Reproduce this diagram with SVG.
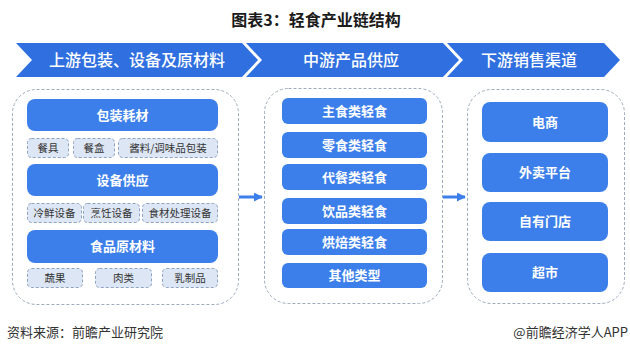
<svg xmlns="http://www.w3.org/2000/svg" width="630" height="352" viewBox="0 0 630 352">
<defs>
<style>
.t{font-family:"Noto Sans CJK SC","Liberation Sans",sans-serif}
.title{font-size:16px;font-weight:bold;fill:#1a1a1a}
.hd{fill:#2f6fe0}
.ht{font-size:16px;fill:#fff;font-weight:500}
.box{fill:#fff;stroke:#9eabbd;stroke-width:1;stroke-dasharray:3 2}
.pill{fill:#3d7fea}
.pt{font-size:13px;fill:#fff;font-weight:bold}
.sub{fill:#dde6f4;stroke:#8ea2c2;stroke-width:1;stroke-dasharray:3 2}
.st{font-size:10.5px;fill:#333}
.ft{font-size:13px;fill:#333}
.arr{stroke:#3d7fea;stroke-width:3;fill:none}
</style>
<marker id="ah" viewBox="0 0 10 10" refX="9" refY="5" markerWidth="3" markerHeight="3" orient="auto" markerUnits="strokeWidth"><path d="M0,0 L10,5 L0,10 z" fill="#3d7fea"/></marker>
</defs>
<rect width="630" height="352" fill="#fff"/>
<text class="t title" x="316" y="26" text-anchor="middle">图表3：轻食产业链结构</text>

<g id="header1"><polygon class="hd" points="16,43 242,43 258,60 242,77 16,77 32,60"/><text class="t ht" x="137" y="66" text-anchor="middle">上游包装、设备及原材料</text></g>
<g id="header2"><polygon class="hd" points="246,43 443,43 459,60 443,77 246,77 262,60"/><text class="t ht" x="351" y="66" text-anchor="middle">中游产品供应</text></g>
<g id="header3"><polygon class="hd" points="447,43 604,43 620,60 604,77 447,77 463,60"/><text class="t ht" x="529" y="66" text-anchor="middle">下游销售渠道</text></g>

<g id="upstream">
<rect class="box" x="12.5" y="89.5" width="226" height="215" rx="24"/>
<g id="pkg"><rect class="pill" x="27" y="99" width="191" height="32" rx="8"/><text class="t pt" x="122.5" y="119.5" text-anchor="middle">包装耗材</text></g>
<g id="s1"><rect class="sub" x="27.5" y="138.5" width="41" height="19" rx="4"/><text class="t st" x="48" y="151.5" text-anchor="middle">餐具</text></g>
<g id="s2"><rect class="sub" x="73.5" y="138.5" width="41" height="19" rx="4"/><text class="t st" x="94" y="151.5" text-anchor="middle">餐盒</text></g>
<g id="s3"><rect class="sub" x="118.5" y="138.5" width="99" height="19" rx="4"/><text class="t st" x="168" y="151.5" text-anchor="middle">酱料/调味品包装</text></g>
<g id="equip"><rect class="pill" x="27" y="164" width="191" height="32" rx="8"/><text class="t pt" x="122.5" y="184.5" text-anchor="middle">设备供应</text></g>
<g id="s4"><rect class="sub" x="27.5" y="203.5" width="54" height="19" rx="4"/><text class="t st" x="54.5" y="216.5" text-anchor="middle">冷鲜设备</text></g>
<g id="s5"><rect class="sub" x="83.5" y="203.5" width="56" height="19" rx="4"/><text class="t st" x="111.5" y="216.5" text-anchor="middle">烹饪设备</text></g>
<g id="s6"><rect class="sub" x="142.5" y="203.5" width="75" height="19" rx="4"/><text class="t st" x="180" y="216.5" text-anchor="middle">食材处理设备</text></g>
<g id="raw"><rect class="pill" x="27" y="230" width="191" height="33" rx="8"/><text class="t pt" x="122.5" y="251" text-anchor="middle">食品原材料</text></g>
<g id="s7"><rect class="sub" x="27.5" y="268.5" width="55" height="19" rx="4"/><text class="t st" x="55" y="281.5" text-anchor="middle">蔬果</text></g>
<g id="s8"><rect class="sub" x="95.5" y="268.5" width="56" height="19" rx="4"/><text class="t st" x="123.5" y="281.5" text-anchor="middle">肉类</text></g>
<g id="s9"><rect class="sub" x="162.5" y="268.5" width="55" height="19" rx="4"/><text class="t st" x="190" y="281.5" text-anchor="middle">乳制品</text></g>
</g>

<g id="midstream">
<rect class="box" x="264.5" y="88.5" width="178" height="215" rx="24"/>
<g id="m1"><rect class="pill" x="282" y="98" width="145" height="26" rx="6"/><text class="t pt" x="354.5" y="115.5" text-anchor="middle">主食类轻食</text></g>
<g id="m2"><rect class="pill" x="282" y="132" width="145" height="26" rx="6"/><text class="t pt" x="354.5" y="149.5" text-anchor="middle">零食类轻食</text></g>
<g id="m3"><rect class="pill" x="282" y="164" width="145" height="26" rx="6"/><text class="t pt" x="354.5" y="181.5" text-anchor="middle">代餐类轻食</text></g>
<g id="m4"><rect class="pill" x="282" y="198" width="145" height="26" rx="6"/><text class="t pt" x="354.5" y="215.5" text-anchor="middle">饮品类轻食</text></g>
<g id="m5"><rect class="pill" x="282" y="229" width="145" height="26" rx="6"/><text class="t pt" x="354.5" y="246.5" text-anchor="middle">烘焙类轻食</text></g>
<g id="m6"><rect class="pill" x="282" y="263" width="145" height="25" rx="6"/><text class="t pt" x="354.5" y="280" text-anchor="middle">其他类型</text></g>
</g>

<g id="downstream">
<rect class="box" x="467.5" y="89.5" width="157" height="214" rx="24"/>
<g id="d1"><rect class="pill" x="482" y="102" width="126" height="40" rx="8"/><text class="t pt" x="545" y="126.5" text-anchor="middle">电商</text></g>
<g id="d2"><rect class="pill" x="482" y="153" width="126" height="39" rx="8"/><text class="t pt" x="545" y="177" text-anchor="middle">外卖平台</text></g>
<g id="d3"><rect class="pill" x="482" y="202" width="126" height="39" rx="8"/><text class="t pt" x="545" y="226" text-anchor="middle">自有门店</text></g>
<g id="d4"><rect class="pill" x="482" y="253" width="126" height="39" rx="8"/><text class="t pt" x="545" y="277" text-anchor="middle">超市</text></g>
</g>

<g id="connectors">
<line class="arr" x1="239" y1="197" x2="262" y2="197" marker-end="url(#ah)"/>
<line class="arr" x1="443" y1="197" x2="465" y2="197" marker-end="url(#ah)"/>
</g>

<text class="t ft" x="7" y="337">资料来源：前瞻产业研究院</text>
<text class="t ft" x="628" y="337" text-anchor="end">@前瞻经济学人APP</text>
</svg>
